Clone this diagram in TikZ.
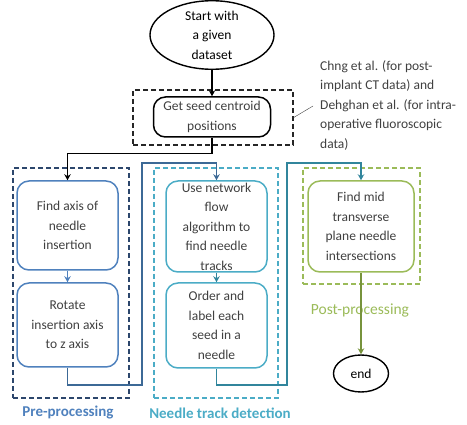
\documentclass[tikz,border=0pt]{standalone}
\usepackage{fontspec}
\setmainfont{Carlito}
\usetikzlibrary{shapes.geometric,positioning,arrows.meta}

\definecolor{navyline}{RGB}{44,70,108}
\definecolor{preblue}{RGB}{79,129,189}
\definecolor{steelline}{RGB}{60,105,150}
\definecolor{trackcyan}{RGB}{75,172,198}
\definecolor{tealline}{RGB}{49,133,156}
\definecolor{postgreen}{RGB}{155,187,89}
\definecolor{olivearrow}{RGB}{119,147,60}
\definecolor{notegray}{RGB}{64,64,64}

\tikzset{
  txt/.style={font=\fontsize{13.5}{19.5}\selectfont, align=center, inner sep=0pt},
  stepbox/.style={txt, draw=#1, rounded corners=12pt, line width=1.5pt, text=black!75},
  grpbox/.style={draw=#1, dash pattern=on 5pt off 3pt, line width=1.4pt, inner sep=0pt},
  grplabel/.style={font=\fontsize{15}{18}\selectfont\bfseries, inner sep=0pt, text=#1},
  terminal/.style={txt, draw, ellipse, line width=1.4pt},
  flow/.style={->, line width=1.3pt, draw=#1}
}

\begin{document}
\begin{tikzpicture}[x=1pt,y=-1pt,>={Stealth[length=6pt,width=6.5pt]}]
\useasboundingbox (0,0) rectangle (467,425);

% start and seed detection
\node[terminal, minimum width=124pt, minimum height=66pt] (start) at (212,35) {Start with\\a given\\dataset};
\node[grpbox=black!85, minimum width=160pt, minimum height=55pt] (seedgrp) at (213,117.5) {};
\node[stepbox=black, minimum width=117pt, minimum height=40pt] (seed) at (212,117) {Get seed centroid\\positions};
\node[txt, align=left, anchor=north west, text=notegray] (note) at (320,60) {Chng et al. (for post-\\implant CT data) and\\Dehghan et al. (for intra-\\operative fluoroscopic\\data)};
\coordinate (notetip) at (313,106);

% pre-processing
\node[grpbox=navyline, minimum width=116pt, minimum height=230pt] (pregrp) at (71,283) {};
\node[stepbox=preblue, minimum width=101pt, minimum height=89pt] (findaxis) at (67.5,225.5) {Find axis of\\needle\\insertion};
\node[stepbox=preblue, minimum width=101pt, minimum height=84pt] (rotate) at (67.5,325) {Rotate\\insertion axis\\to z axis};
\node[grplabel=preblue] (prelbl) at (68,413) {Pre-processing};

% needle track detection
\node[grpbox=trackcyan, minimum width=124pt, minimum height=230pt] (trackgrp) at (216,283) {};
\node[stepbox=trackcyan, minimum width=101pt, minimum height=91pt] (usenet) at (216.5,226.5) {Use network\\flow\\algorithm to\\find needle\\tracks};
\node[stepbox=trackcyan, minimum width=101pt, minimum height=85pt] (order) at (216.5,325.5) {Order and\\label each\\seed in a\\needle};
\node[grplabel=trackcyan] (tracklbl) at (220,413) {Needle track detection};

% post-processing
\node[grpbox=postgreen, minimum width=117pt, minimum height=116pt] (postgrp) at (361.5,226) {};
\node[stepbox=postgreen, minimum width=106pt, minimum height=91pt] (findmid) at (361,226.5) {Find mid\\transverse\\plane needle\\intersections};
\node[txt, font=\fontsize{15.5}{18}\selectfont, text=postgreen] (postlbl) at (360,311) {Post-processing};
\node[terminal, minimum width=55pt, minimum height=37pt] (end) at (361,373.5) {end};

\coordinate (j1) at (142,385);
\coordinate (j2) at (142,163);
\coordinate (k1) at (287,385);
\coordinate (k2) at (287,163);

\draw[notegray] (seedgrp.east) -- (notetip);
\draw[flow=black] (start) -- (seed);
\draw[flow=black] (seed.south) -- ++(0,16) -| (findaxis.north);
\draw[flow=preblue] (findaxis) -- (rotate);
\draw[flow=steelline] (rotate.south) |- (j1) -- (j2) -| (usenet.north);
\draw[flow=tealline] (usenet) -- (order);
\draw[flow=tealline] (order.south) |- (k1) -- (k2) -| (findmid.north);
\draw[flow=olivearrow] (findmid) -- (end);
\end{tikzpicture}
\end{document}
